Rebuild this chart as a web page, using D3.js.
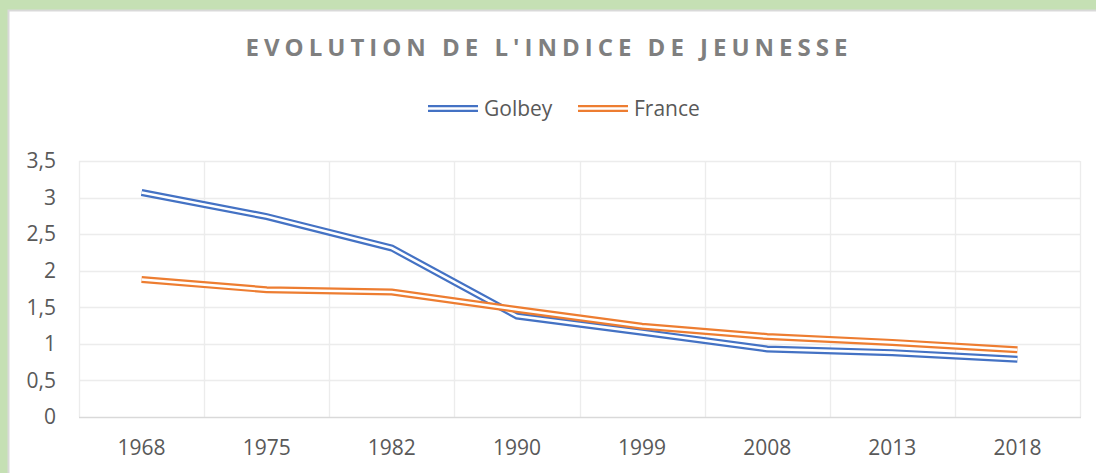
<!DOCTYPE html>
<html>
<head>
<meta charset="utf-8">
<script src="https://cdn.jsdelivr.net/npm/d3@7"></script>
<style>
  html, body { margin: 0; padding: 0; background: #c5e0b4; }
  svg { display: block; }
  text { font-family: "Open Sans", sans-serif; }
</style>
</head>
<body>
<svg id="chart" width="1096" height="473"></svg>
<script>
var years = ["1968", "1975", "1982", "1990", "1999", "2008", "2013", "2018"];
var golbey = [3.07, 2.74, 2.31, 1.38, 1.16, 0.93, 0.88, 0.79];
var france = [1.88, 1.74, 1.71, 1.47, 1.24, 1.10, 1.02, 0.92];
var yTicks = [0, 0.5, 1, 1.5, 2, 2.5, 3, 3.5];
var seriesNames = ["Golbey", "France"];
var seriesColors = ["#4472c4", "#ed7d31"];

var svg = d3.select("#chart");

// white panel over the green background
svg.append("rect")
    .attr("x", 8.5).attr("y", 10.5)
    .attr("width", 1100).attr("height", 470)
    .attr("fill", "#fff")
    .attr("stroke", "#d9d9d9")
    .attr("stroke-width", 2);

var plotLeft = 79, plotRight = 1080, plotTop = 161, plotBottom = 417;

var x = d3.scaleBand().domain(years).range([plotLeft, plotRight]);
var y = d3.scaleLinear().domain([0, 3.5]).range([plotBottom, plotTop]);

// horizontal gridlines
svg.append("g").selectAll("line")
    .data(yTicks.slice(1))
    .enter().append("line")
    .attr("x1", plotLeft).attr("x2", plotRight)
    .attr("y1", function (d) { return Math.round(y(d)) + 0.5; })
    .attr("y2", function (d) { return Math.round(y(d)) + 0.5; })
    .attr("stroke", "#ececec")
    .attr("stroke-width", 1.3);

// vertical gridlines at category boundaries
svg.append("g").selectAll("line")
    .data(years)
    .enter().append("line")
    .attr("x1", function (d) { return Math.round(x(d)) + 0.5; })
    .attr("x2", function (d) { return Math.round(x(d)) + 0.5; })
    .attr("y1", plotTop).attr("y2", plotBottom)
    .attr("stroke", "#ececec")
    .attr("stroke-width", 1.3);

svg.append("line")
    .attr("x1", plotRight + 0.5).attr("x2", plotRight + 0.5)
    .attr("y1", plotTop).attr("y2", plotBottom)
    .attr("stroke", "#ececec").attr("stroke-width", 1.3);

// bottom axis line
svg.append("line")
    .attr("x1", plotLeft).attr("x2", plotRight + 1)
    .attr("y1", Math.round(y(0)) + 0.5).attr("y2", Math.round(y(0)) + 0.5)
    .attr("stroke", "#d9d9d9").attr("stroke-width", 1.3);

// y labels
svg.append("g").selectAll("text")
    .data(yTicks)
    .enter().append("text")
    .attr("x", 56)
    .attr("y", function (d) { return y(d); })
    .attr("dy", "0.35em")
    .attr("text-anchor", "end")
    .attr("font-size", 21)
    .attr("fill", "#595959")
    .text(function (d) { return String(d).replace(".", ","); });

// x labels
svg.append("g").selectAll("text")
    .data(years)
    .enter().append("text")
    .attr("x", function (d) { return x(d) + x.bandwidth() / 2; })
    .attr("y", 448)
    .attr("dy", "0.35em")
    .attr("text-anchor", "middle")
    .attr("font-size", 21)
    .attr("fill", "#595959")
    .text(function (d) { return d; });

// double lines: wide coloured stroke with a thin white core
var line = d3.line()
    .x(function (d, i) { return x(years[i]) + x.bandwidth() / 2; })
    .y(function (d) { return y(d); });

[golbey, france].forEach(function (vals, i) {
    svg.append("path")
        .attr("d", line(vals))
        .attr("fill", "none")
        .attr("stroke", seriesColors[i])
        .attr("stroke-width", 7);
    svg.append("path")
        .attr("d", line(vals))
        .attr("fill", "none")
        .attr("stroke", "#fff")
        .attr("stroke-width", 2.6);
});

// title
svg.append("text")
    .attr("x", 549).attr("y", 48)
    .attr("dy", "0.35em")
    .attr("text-anchor", "middle")
    .attr("font-size", 24)
    .attr("font-weight", "bold")
    .attr("letter-spacing", 5)
    .attr("fill", "#7f7f7f")
    .text("EVOLUTION DE L'INDICE DE JEUNESSE");

// legend
var legendX = [428, 578];
seriesNames.forEach(function (name, i) {
    var g = svg.append("g").attr("transform", "translate(" + legendX[i] + ",108.5)");
    g.append("line").attr("x1", 0).attr("x2", 50)
        .attr("stroke", seriesColors[i]).attr("stroke-width", 7);
    g.append("line").attr("x1", 0).attr("x2", 50)
        .attr("stroke", "#fff").attr("stroke-width", 2.6);
    g.append("text")
        .attr("x", 56).attr("y", 0)
        .attr("dy", "0.35em")
        .attr("font-size", 21)
        .attr("fill", "#595959")
        .text(name);
});
</script>
</body>
</html>
